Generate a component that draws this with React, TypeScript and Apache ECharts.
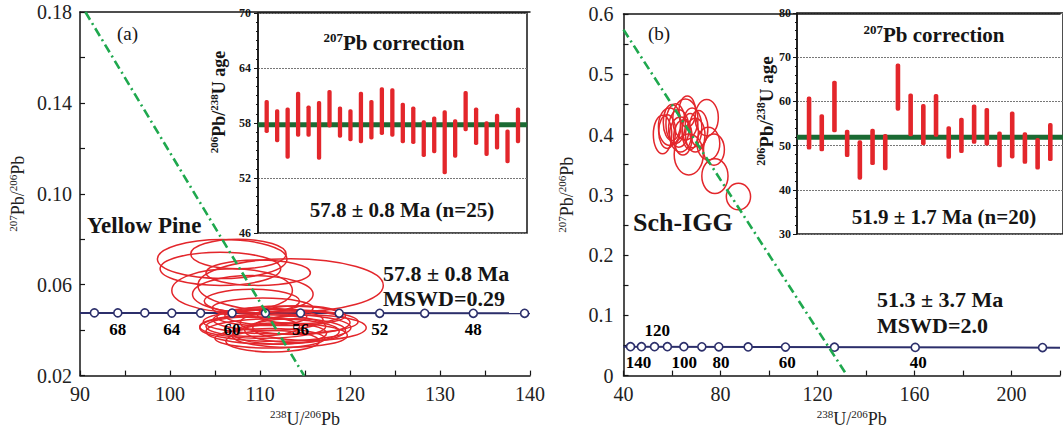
import React, { useEffect, useRef } from "react";
import * as echarts from "echarts";

const FONT = '"Liberation Serif", "Times New Roman", serif';
const RED = "#e3262b";
const NAVY = "#2c2f6b";
const DGREEN = "#1b6a33";
const LGREEN = "#1fa84e";
const INK = "#151515";

// ---------- Panel (a): Yellow Pine ----------
const A_ELL_X = [105.8, 107.6, 105.6, 109.8, 113.4, 106.9, 109.2, 109.1, 110.3, 111.7, 112.3, 111.4, 111.4, 110.3, 113.9, 115.5, 109.2, 112.2, 110.9, 113.3, 110.2, 112.8, 114.4, 111.1, 113.9];
const A_ELL_Y = [0.0713, 0.0735, 0.067, 0.0653, 0.0597, 0.0575, 0.0558, 0.0528, 0.0498, 0.0411, 0.0437, 0.0394, 0.0351, 0.0416, 0.0433, 0.0411, 0.0416, 0.0386, 0.0446, 0.0377, 0.0459, 0.0463, 0.0468, 0.0364, 0.0398];
const A_ELL_RX = [7.2, 5.3, 6.7, 5.8, 10.3, 6.7, 6.7, 5.3, 5.6, 8.4, 8.6, 7.4, 5.2, 7.0, 6.1, 6.3, 5.2, 5.2, 6.1, 6.4, 5.0, 6.7, 4.7, 6.1, 5.6];
const A_ELL_RY = [0.0086, 0.0065, 0.0073, 0.0056, 0.0117, 0.0095, 0.0082, 0.0052, 0.0043, 0.006, 0.0054, 0.0056, 0.0047, 0.0052, 0.0052, 0.0056, 0.0043, 0.0047, 0.0047, 0.0052, 0.0039, 0.0043, 0.0039, 0.0043, 0.0052];

const A_CONC_X = [91.6, 94.2, 97.2, 100.2, 103.4, 106.9, 110.6, 114.5, 118.8, 123.3, 128.3, 133.7, 139.4];
const A_CONC_Y = [0.0476, 0.0476, 0.0476, 0.0475, 0.0475, 0.0475, 0.0475, 0.0475, 0.0474, 0.0474, 0.0474, 0.0474, 0.0474];
const A_CONC_LINE = [[90, 0.0476], [140, 0.0474]];
const A_LABEL_TEXT = ["68", "64", "60", "56", "52", "48"];
const A_LABEL_X = [94.2, 100.2, 106.9, 114.5, 123.3, 133.7];
const A_DISC = [[90.6, 0.18], [114.9, 0.02]];

const A_AGE_HI = [60.5, 59.5, 59.7, 61.4, 59.9, 60.4, 61.6, 59.8, 59.5, 61.4, 60.5, 61.9, 61.8, 60.2, 59.8, 58.3, 58.7, 59.4, 58.4, 61.5, 59.7, 58.2, 59.0, 57.3, 59.7];
const A_AGE_LO = [56.9, 55.9, 54.1, 56.5, 56.5, 54.0, 57.5, 56.4, 56.0, 55.8, 56.2, 56.7, 56.5, 55.8, 55.7, 54.3, 54.7, 52.4, 54.2, 57.1, 55.6, 54.4, 55.1, 53.6, 55.8];
const A_MEAN = 57.8;

// ---------- Panel (b): Sch-IGG ----------
const B_ELL_X = [56.1, 59.0, 61.5, 63.5, 65.5, 66.3, 68.3, 69.6, 74.3, 66.9, 75.0, 77.3, 77.7, 87.4, 60.0, 62.8, 64.5, 67.5, 71.0, 58.0];
const B_ELL_Y = [0.400, 0.413, 0.418, 0.400, 0.425, 0.438, 0.411, 0.399, 0.428, 0.367, 0.385, 0.375, 0.331, 0.297, 0.420, 0.410, 0.395, 0.405, 0.410, 0.405];
const B_ELL_RX = [3.8, 4.6, 4.0, 4.5, 5.2, 3.5, 4.0, 4.0, 4.8, 6.0, 4.7, 4.3, 5.4, 5.0, 3.6, 4.2, 3.8, 3.4, 3.8, 3.5];
const B_ELL_RY = [0.032, 0.031, 0.033, 0.029, 0.034, 0.026, 0.033, 0.028, 0.030, 0.034, 0.027, 0.026, 0.029, 0.022, 0.030, 0.031, 0.029, 0.030, 0.030, 0.028];

const B_CONC_X = [42.9, 47.4, 52.8, 58.1, 64.9, 72.3, 79.3, 91.4, 106.8, 127.0, 160.3, 212.8];
const B_CONC_Y = [0.048, 0.048, 0.048, 0.048, 0.048, 0.0478, 0.0478, 0.0476, 0.0474, 0.0472, 0.0468, 0.0465];
const B_CONC_LINE = [[40, 0.048], [220, 0.0464]];
const B_LABEL_TEXT = ["140", "120", "100", "80", "60", "40"];
const B_LABEL_X = [46.2, 53.9, 65.0, 80.2, 107.5, 161.5];
const B_LABEL_ABOVE = [false, true, false, false, false, false];
const B_DISC = [[40, 0.574], [132.2, 0]];

const B_AGE_HI = [61.1, 57.1, 64.7, 53.6, 51.2, 53.8, 52.6, 68.6, 61.8, 59.4, 61.7, 54.4, 56.3, 59.3, 58.5, 53.2, 57.7, 53.0, 51.7, 55.1];
const B_AGE_LO = [49.1, 48.7, 53.0, 47.4, 42.3, 45.6, 44.4, 57.9, 52.1, 50.1, 52.0, 47.0, 48.3, 50.4, 50.0, 45.1, 47.1, 45.9, 44.6, 46.5];
const B_MEAN = 51.9;

const axisLineStyle = { color: INK, width: 1.5 };

function richStyles(size: number, bold: boolean, color = INK) {
  const w = bold ? "bold" : "normal";
  const lh = Math.round(size * 1.15);
  return {
    s: { fontFamily: FONT, fontWeight: w, fontSize: Math.round(size * 0.62), color, verticalAlign: "top", lineHeight: lh },
    m: { fontFamily: FONT, fontWeight: w, fontSize: size, color, verticalAlign: "middle", lineHeight: lh },
  };
}

function ellipseSeries(xs: number[], ys: number[], rxs: number[], rys: number[], xi: number, yi: number) {
  return {
    type: "custom",
    xAxisIndex: xi,
    yAxisIndex: yi,
    z: 3,
    data: xs.map((x, i) => [x, ys[i], rxs[i], rys[i]]),
    encode: { x: 0, y: 1 },
    renderItem: (_p: any, api: any) => {
      const c = api.coord([api.value(0), api.value(1)]);
      const s = api.size([api.value(2), api.value(3)]);
      return {
        type: "ellipse",
        shape: { cx: c[0], cy: c[1], rx: s[0], ry: s[1] },
        style: { fill: "none", stroke: RED, lineWidth: 1.5 },
      };
    },
  };
}

function barSeries(lo: number[], hi: number[], xi: number, yi: number, w: number) {
  return {
    type: "custom",
    xAxisIndex: xi,
    yAxisIndex: yi,
    z: 4,
    data: lo.map((l, i) => [i + 1, l, hi[i]]),
    encode: { x: 0, y: [1, 2] },
    renderItem: (_p: any, api: any) => {
      const x = api.value(0);
      const top = api.coord([x, api.value(2)]);
      const bot = api.coord([x, api.value(1)]);
      return {
        type: "rect",
        shape: { x: top[0] - w / 2, y: top[1], width: w, height: bot[1] - top[1], r: w / 2.5 },
        style: { fill: RED },
      };
    },
  };
}

function concSeries(xs: number[], ys: number[], line: number[][], xi: number, yi: number) {
  return [
    {
      type: "line",
      xAxisIndex: xi,
      yAxisIndex: yi,
      z: 2,
      data: line,
      symbol: "none",
      lineStyle: { color: NAVY, width: 2 },
    },
    {
      type: "scatter",
      xAxisIndex: xi,
      yAxisIndex: yi,
      z: 5,
      data: xs.map((x, i) => [x, ys[i]]),
      symbol: "circle",
      symbolSize: 8,
      itemStyle: { color: "#fff", borderColor: NAVY, borderWidth: 1.6, opacity: 1 },
    },
  ];
}

function labelSeries(texts: string[], xs: number[], y: number, above: boolean[], xi: number, yi: number) {
  return {
    type: "custom",
    xAxisIndex: xi,
    yAxisIndex: yi,
    z: 7,
    data: texts.map((t, i) => [xs[i], y, above[i] ? 1 : 0]),
    encode: { x: 0, y: 1 },
    renderItem: (p: any, api: any) => {
      const c = api.coord([api.value(0), api.value(1)]);
      const up = api.value(2) === 1;
      return {
        type: "text",
        x: c[0],
        y: c[1] + (up ? -16 : 16),
        style: {
          text: texts[p.dataIndex],
          font: `bold 17px ${FONT}`,
          fill: "#000",
          align: "center",
          verticalAlign: "middle",
        },
      };
    },
  };
}

function discSeries(pts: number[][], xi: number, yi: number) {
  return {
    type: "line",
    xAxisIndex: xi,
    yAxisIndex: yi,
    z: 6,
    data: pts,
    symbol: "none",
    lineStyle: { color: LGREEN, width: 2.6, type: [9, 4, 2, 4] },
  };
}

function meanSeries(mean: number, min: number, max: number, xi: number, yi: number) {
  return {
    type: "line",
    xAxisIndex: xi,
    yAxisIndex: yi,
    z: 3,
    data: [[min, mean], [max, mean]],
    symbol: "none",
    lineStyle: { color: DGREEN, width: 5 },
  };
}

function txt(text: string, x: number, y: number, size: number, bold: boolean, align = "left", rot = 0) {
  return {
    type: "text",
    x,
    y,
    rotation: rot,
    z: 100,
    style: {
      text,
      font: `${bold ? "bold " : ""}${size}px ${FONT}`,
      fill: INK,
      align,
      verticalAlign: "middle",
      rich: richStyles(size, bold),
    },
  };
}

export default function App() {
  const ref = useRef<HTMLDivElement>(null);
  useEffect(() => {
    if (!ref.current) return;
    const chart = echarts.init(ref.current, undefined, { renderer: "svg" });
    const mainLabel = { fontFamily: FONT, fontSize: 20, color: "#222" };
    const insetLabel = { fontFamily: FONT, fontSize: 12, fontWeight: "bold", color: INK };
    const nameStyle = { fontFamily: FONT, fontSize: 18, color: "#222", rich: richStyles(18, false, "#222") };
    const option: any = {
      animation: false,
      backgroundColor: "#fff",
      grid: [
        { left: 80, top: 12, width: 450, height: 370 },
        { left: 258, top: 13, width: 269, height: 220, show: true, backgroundColor: "#fff", borderColor: INK, borderWidth: 1.5 },
        { left: 623.5, top: 14, width: 444.7, height: 367.5 },
        { left: 797, top: 13, width: 271, height: 221, show: true, backgroundColor: "#fff", borderColor: INK, borderWidth: 1.5 },
      ],
      xAxis: [
        {
          gridIndex: 0, type: "value", min: 90, max: 140, interval: 5, position: "bottom",
          axisLine: { lineStyle: axisLineStyle },
          axisTick: { inside: true, length: 5, lineStyle: { color: INK, width: 1.2 } },
          axisLabel: { ...mainLabel, margin: 8, formatter: (v: number) => (Math.round(v) % 10 === 0 ? String(Math.round(v)) : "") },
          splitLine: { show: false },
          name: "{s|238}{m|U/}{s|206}{m|Pb}", nameLocation: "middle", nameGap: 30,
          nameTextStyle: nameStyle,
        },
        {
          gridIndex: 0, type: "value", min: 90, max: 140, position: "top",
          axisLine: { show: true, lineStyle: axisLineStyle },
          axisTick: { show: false }, axisLabel: { show: false }, splitLine: { show: false },
        },
        { gridIndex: 1, type: "value", min: 0.17, max: 25.86, show: false },
        {
          gridIndex: 2, type: "value", min: 40, max: 220, interval: 20, position: "bottom",
          axisLine: { lineStyle: axisLineStyle },
          axisTick: { inside: true, length: 5, lineStyle: { color: INK, width: 1.2 } },
          axisLabel: { ...mainLabel, margin: 8, formatter: (v: number) => (Math.round(v) % 40 === 0 ? String(Math.round(v)) : "") },
          splitLine: { show: false },
          name: "{s|238}{m|U/}{s|206}{m|Pb}", nameLocation: "middle", nameGap: 27,
          nameTextStyle: { ...nameStyle, padding: [0, 0, 0, 20] },
        },
        {
          gridIndex: 2, type: "value", min: 40, max: 220, position: "top",
          axisLine: { show: true, lineStyle: axisLineStyle },
          axisTick: { show: false }, axisLabel: { show: false }, splitLine: { show: false },
        },
        { gridIndex: 3, type: "value", min: 0.05, max: 21, show: false },
      ],
      yAxis: [
        {
          gridIndex: 0, type: "value", min: 0.02, max: 0.18, interval: 0.02,
          axisLine: { lineStyle: axisLineStyle },
          axisTick: { inside: true, length: 5, lineStyle: { color: INK, width: 1.2 } },
          axisLabel: {
            ...mainLabel, margin: 8,
            formatter: (v: number) => (Math.round((v - 0.02) / 0.02) % 2 === 0 ? v.toFixed(2) : ""),
          },
          splitLine: { show: false },
          name: "{s|207}{m|Pb/}{s|206}{m|Pb}", nameLocation: "middle", nameGap: 52, nameRotate: 90,
          nameTextStyle: nameStyle,
        },
        {
          gridIndex: 1, type: "value", min: 46, max: 70, interval: 6,
          axisLine: { lineStyle: axisLineStyle },
          axisTick: { inside: false, length: 4, lineStyle: { color: INK } },
          minorTick: { show: true, splitNumber: 6, length: 2, lineStyle: { color: INK } },
          axisLabel: { ...insetLabel, margin: 7 },
          splitLine: { show: true, lineStyle: { color: "#777", type: [2, 1], width: 1 } },
        },
        {
          gridIndex: 2, type: "value", min: 0, max: 0.6, interval: 0.05,
          axisLine: { lineStyle: axisLineStyle },
          axisTick: { inside: true, length: 5, lineStyle: { color: INK, width: 1.2 } },
          axisLabel: {
            ...mainLabel, margin: 10,
            formatter: (v: number) => {
              const k = Math.round(v / 0.05);
              if (k % 2 !== 0) return "";
              return k === 0 ? "0" : (k * 0.05).toFixed(1);
            },
          },
          splitLine: { show: false },
          name: "{s|207}{m|Pb/}{s|206}{m|Pb}", nameLocation: "middle", nameGap: 46, nameRotate: 90,
          nameTextStyle: nameStyle,
        },
        {
          gridIndex: 3, type: "value", min: 30, max: 80, interval: 10,
          axisLine: { lineStyle: axisLineStyle },
          axisTick: { inside: false, length: 4, lineStyle: { color: INK } },
          minorTick: { show: true, splitNumber: 5, length: 2, lineStyle: { color: INK } },
          axisLabel: { ...insetLabel, margin: 6 },
          splitLine: { show: true, lineStyle: { color: "#777", type: [2, 1], width: 1 } },
        },
      ],
      series: [
        ...concSeries(A_CONC_X, A_CONC_Y, A_CONC_LINE, 0, 0),
        ellipseSeries(A_ELL_X, A_ELL_Y, A_ELL_RX, A_ELL_RY, 0, 0),
        discSeries(A_DISC, 0, 0),
        labelSeries(A_LABEL_TEXT, A_LABEL_X, 0.0475, A_LABEL_TEXT.map(() => false), 0, 0),
        meanSeries(A_MEAN, 0.17, 25.86, 2, 1),
        barSeries(A_AGE_LO, A_AGE_HI, 2, 1, 4.3),
        ...concSeries(B_CONC_X, B_CONC_Y, B_CONC_LINE, 3, 2),
        ellipseSeries(B_ELL_X, B_ELL_Y, B_ELL_RX, B_ELL_RY, 3, 2),
        discSeries(B_DISC, 3, 2),
        labelSeries(B_LABEL_TEXT, B_LABEL_X, 0.048, B_LABEL_ABOVE, 3, 2),
        meanSeries(B_MEAN, 0.05, 21, 5, 3),
        barSeries(B_AGE_LO, B_AGE_HI, 5, 3, 4.6),
      ],
      graphic: [
        txt("(a)", 117, 33, 19, false),
        txt("Yellow Pine", 87, 225, 23, true),
        txt("57.8 ± 0.8 Ma", 383, 273, 22, true),
        txt("MSWD=0.29", 383, 298, 22, true),
        txt("{s|207}{m|Pb correction}", 394, 43, 21, true, "center"),
        txt("57.8 ± 0.8 Ma (n=25)", 402, 210, 21, true, "center"),
        txt("{s|206}{m|Pb/}{s|238}{m|U age}", 219, 102, 18, true, "center", Math.PI / 2),
        txt("(b)", 648, 33, 19, false),
        txt("Sch-IGG", 633, 222, 26, true),
        txt("51.3 ± 3.7 Ma", 877, 299, 22, true),
        txt("MSWD=2.0", 877, 325, 22, true),
        txt("{s|207}{m|Pb correction}", 934, 35, 21, true, "center"),
        txt("51.9 ± 1.7 Ma (n=20)", 944, 217, 21, true, "center"),
        txt("{s|206}{m|Pb/}{s|238}{m|U age}", 766, 111, 19, true, "center", Math.PI / 2),
      ],
    };
    chart.setOption(option);
    return () => chart.dispose();
  }, []);
  return (
    <div
      ref={ref}
      style={{ position: "fixed", left: 0, top: 0, width: 1063, height: 433, background: "#fff" }}
    />
  );
}
